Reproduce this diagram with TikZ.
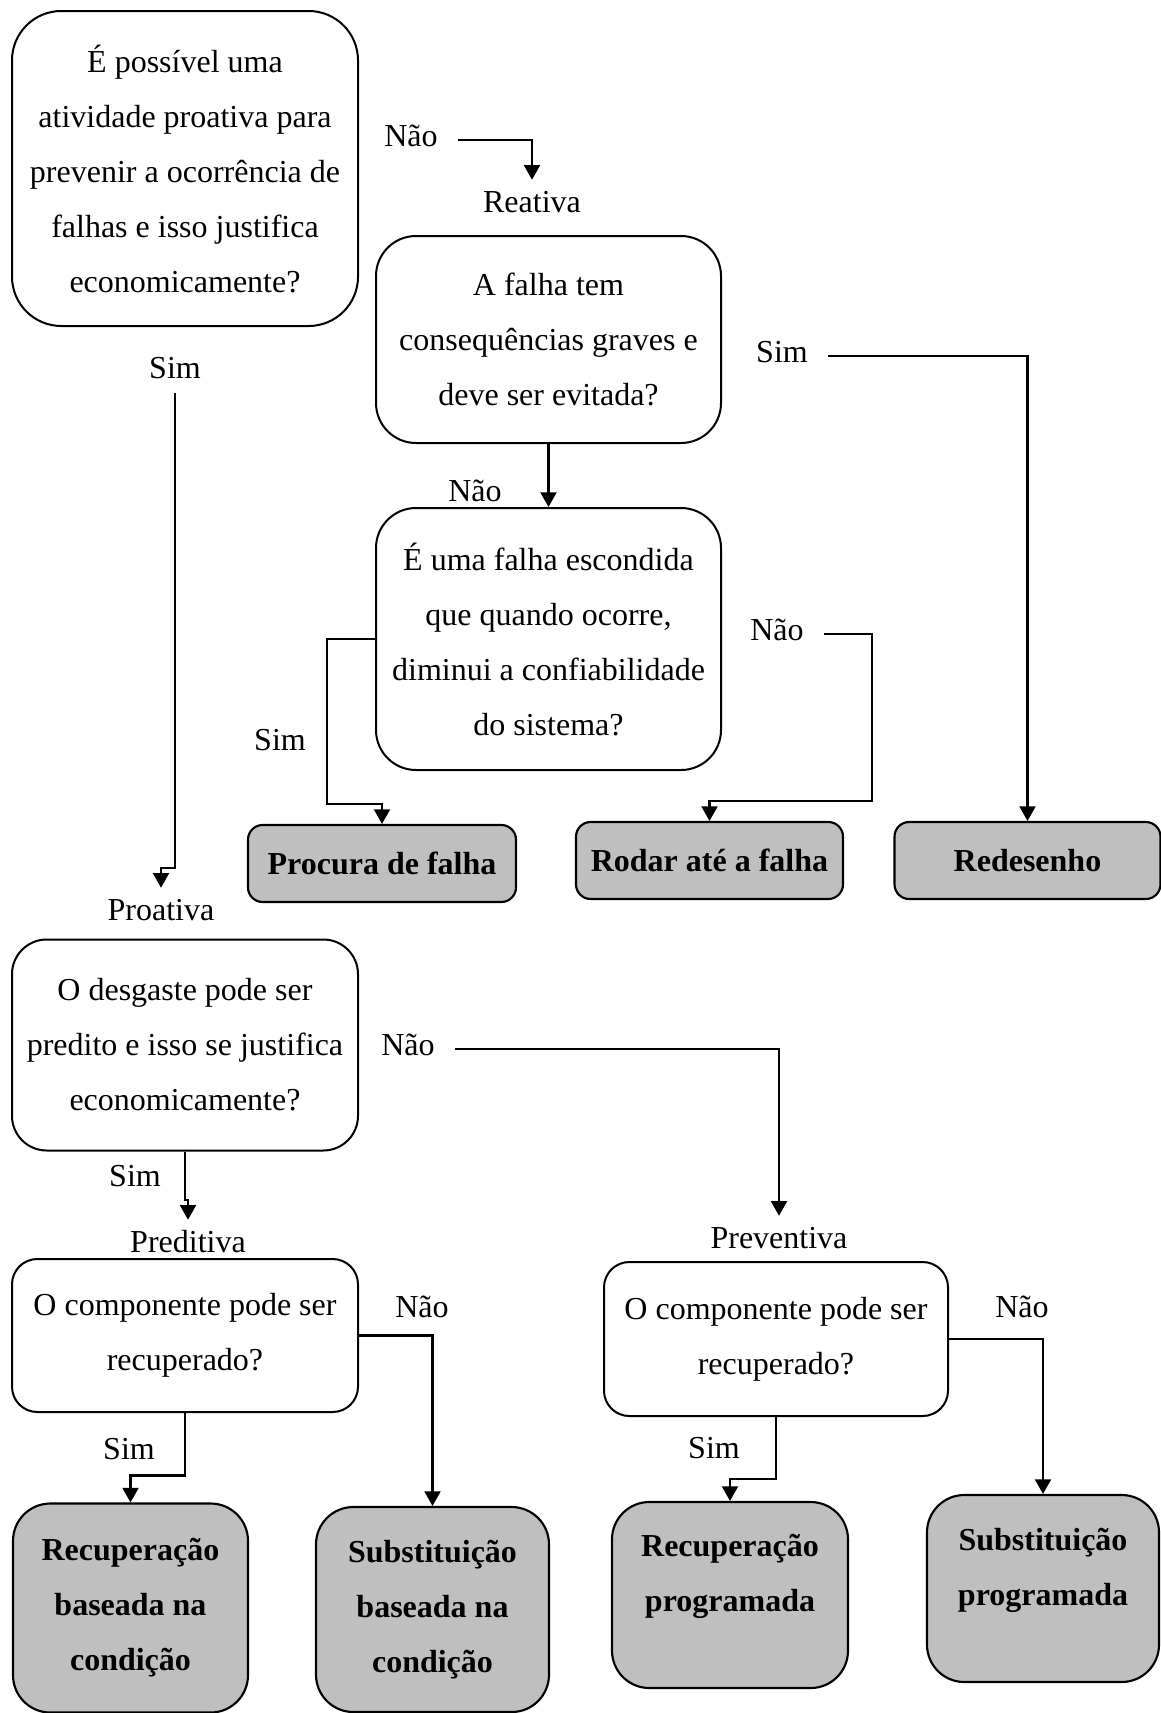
\documentclass[tikz,border=0pt]{standalone}
\usepackage{fontspec}
\setmainfont{Liberation Serif}
\usetikzlibrary{arrows.meta,calc}
\tikzset{
  txt/.style={font=\fontsize{24}{41.25}\selectfont},
  qbox/.style={txt, draw, line width=1.5pt, align=center, inner sep=0pt, fill=white},
  rbox/.style={draw, line width=1.6pt, fill=black!25, align=center, inner sep=0pt,
               font=\fontsize{24}{41.25}\selectfont\bfseries},
  btxt/.style={align=center, inner sep=0pt, font=\fontsize{24}{41.25}\selectfont\bfseries},
  lbl/.style={txt, anchor=base, inner xsep=15pt, inner ysep=8pt, text height=16pt, text depth=7pt},
  arr/.style={line width=1.6pt, -{Triangle[width=12pt,length=11pt]}},
}
\begin{document}
\begin{tikzpicture}[x=0.75pt,y=-0.75pt]
\useasboundingbox (0,0) rectangle (1160,1713);

% question boxes
\node[qbox, rounded corners=37pt, minimum width=346*0.75pt, minimum height=315*0.75pt] (b1) at (185,168.5)
  {É possível uma\\atividade proativa para\\prevenir a ocorrência de\\falhas e isso justifica\\economicamente?};
\node[qbox, rounded corners=30pt, minimum width=345*0.75pt, minimum height=207*0.75pt] (b2) at (548.5,339.5)
  {A falha tem\\consequências graves e\\deve ser evitada?};
\node[qbox, rounded corners=30pt, minimum width=345*0.75pt, minimum height=262*0.75pt] (b3) at (548.5,639)
  {É uma falha escondida\\que quando ocorre,\\diminui a confiabilidade\\do sistema?};
\node[qbox, rounded corners=26pt, minimum width=346*0.75pt, minimum height=211*0.75pt] (b4) at (185,1045)
  {O desgaste pode ser\\predito e isso se justifica\\economicamente?};
\node[qbox, rounded corners=19pt, minimum width=346*0.75pt, minimum height=153*0.75pt] (b5) at (185,1335.5)
  {O componente pode ser\\recuperado?};
\node[qbox, rounded corners=19pt, minimum width=344*0.75pt, minimum height=154*0.75pt] (b6) at (776,1339)
  {O componente pode ser\\recuperado?};

% result boxes
\node[rbox, rounded corners=11pt, minimum width=268*0.75pt, minimum height=77*0.75pt] (proc) at (382,863.5) {Procura de falha};
\node[rbox, rounded corners=11pt, minimum width=267*0.75pt, minimum height=77*0.75pt] (rod) at (709.5,860.5) {Rodar até a falha};
\node[rbox, rounded corners=11pt, minimum width=266*0.75pt, minimum height=77*0.75pt] (red) at (1027.5,860.5) {Redesenho};
\node[rbox, rounded corners=28pt, minimum width=235*0.75pt, minimum height=209*0.75pt] (recb) at (130.5,1608)
  {Recuperação\\baseada na\\condição};
\node[rbox, rounded corners=28pt, minimum width=233*0.75pt, minimum height=205*0.75pt] (subb) at (432.5,1609.5)
  {Substituição\\baseada na\\condição};
\node[rbox, rounded corners=28pt, minimum width=236*0.75pt, minimum height=186*0.75pt] (recp) at (730,1595) {};
\node[btxt] (recpT) at (730,1576) {Recuperação\\programada};
\node[rbox, rounded corners=28pt, minimum width=232*0.75pt, minimum height=187*0.75pt] (subp) at (1043,1588.5) {};
\node[btxt] (subpT) at (1043,1570) {Substituição\\programada};

% labels
\node[lbl] (nao1) at (411,146) {Não};
\node[lbl] (reat) at (532,212) {Reativa};
\node[lbl] (sim1) at (782,362) {Sim};
\node[lbl] (nao2) at (475,501) {Não};
\node[lbl] (sim2) at (280,750) {Sim};
\node[lbl] (nao3) at (777,640) {Não};
\node[lbl, inner ysep=4pt] (sim3) at (175,378) {Sim};
\node[lbl] (proa) at (161,920) {Proativa};
\node[lbl] (nao4) at (408,1055) {Não};
\node[lbl] (sim4) at (135,1186) {Sim};
\node[lbl] (pred) at (188,1252) {Preditiva};
\node[lbl] (prev) at (779,1248) {Preventiva};
\node[lbl] (nao5) at (422,1317) {Não};
\node[lbl] (sim5) at (129,1459) {Sim};
\node[lbl] (nao6) at (1022,1317) {Não};
\node[lbl] (sim6) at (714,1458) {Sim};

% connectors
\draw[arr] (nao1.east) -| (reat.north);
\draw[arr] (b2.south) -- (b3.north);
\draw[arr] (sim1.east) -| (red.north);
\draw[arr] (b3.west) -- ++(-48,0) |- ($(proc.north)+(0,-20)$) -- (proc.north);
\draw[arr] (nao3.east) -- ++(48,0) |- ($(rod.north)+(0,-20)$) -- (rod.north);
\draw[arr] (sim3.south) |- ($(proa.north)+(0,-20)$) -- (proa.north);
\draw[arr] (nao4.east) -| (prev.north);
\draw[arr] (b4.south) |- ($(pred.north)+(0,-20)$) -- (pred.north);
\draw[arr] (b5.south) |- ($(recb.north)+(0,-27)$) -- (recb.north);
\draw[arr] (b5.east) -| (subb.north);
\draw[arr] (b6.south) |- ($(recp.north)+(0,-22)$) -- (recp.north);
\draw[arr] (b6.east) -| (subp.north);
\end{tikzpicture}
\end{document}
